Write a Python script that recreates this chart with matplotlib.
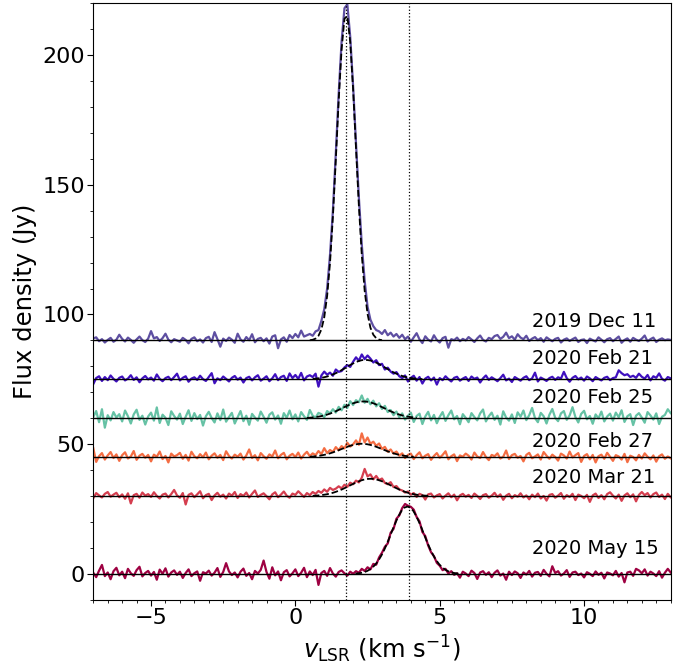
import numpy as np
import matplotlib
matplotlib.use("Agg")
import matplotlib.pyplot as plt
from matplotlib.ticker import MultipleLocator

# velocity channels (km/s)
velocity = np.round(np.linspace(-7.0, 13.0, 201), 1)

epochs = ["2019 Dec 11", "2020 Feb 21", "2020 Feb 25",
          "2020 Feb 27", "2020 Mar 21", "2020 May 15"]
offsets = [90, 75, 60, 45, 30, 0]
colors = ["#5e4fa2", "#3f10bf", "#66c2a5", "#f46d43", "#d53e4f", "#9e0142"]

# flux density (Jy) for each epoch, before offset
flux_dec11 = [
    0.8, 1.2, -0.3, 0.5, -0.8, 0.2, 1.0, -0.5, 0.3, 2.2,
    0.6, -0.4, 1.1, 0.2, -0.9, 0.4, 1.5, 0.1, -0.6, 0.7,
    3.6, 0.8, 1.3, -0.2, 0.9, 2.6, 0.3, -0.7, 0.5, 0.0,
    -0.5, 1.0, 0.2, -1.1, 0.6, 1.2, -0.3, 0.4, -0.8, 0.9,
    1.4, -0.6, 3.2, 0.5, -2.4, 0.7, -0.2, 1.1, 0.3, -0.9,
    2.6, 0.4, -0.5, 1.3, 0.1, 2.4, -0.7, 0.6, 1.0, -0.3,
    0.8, -1.2, 1.5, 2.0, -3.0, 0.4, 1.2, -0.5, 2.1, 0.9,
    2.5, 1.2, 3.8, 1.5, 2.0, 2.5, 1.8, 3.5, 4.0, 7.5,
    12, 20, 33, 50, 72, 95, 115, 128, 129.5, 117,
    98, 76, 55, 37, 23, 13, 8, 5.5, 4.0, 3.5,
    2.5, 4.0, 2.0, 3.0, 1.5, 2.5, 1.0, 2.2, 0.5, 1.5,
    -0.5, 1.2, 2.8, 0.4, -1.0, 1.6, 0.3, -0.4, 2.0, 0.2,
    -0.8, 0.9, 1.4, -2.8, 0.5, 0.1, 1.1, -0.3, 0.6, 0.0,
    1.3, 0.4, -0.6, 0.8, 1.9, 0.2, -0.4, 1.0, 0.5, 1.7,
    2.1, 0.6, 1.4, 3.0, 0.9, 1.6, 0.3, 2.4, 1.1, 0.5,
    1.8, -0.2, 0.7, 1.3, 0.1, 0.9, -0.5, 1.2, 0.4, -0.3,
    0.6, 1.0, -0.8, 0.3, 0.8, -0.2, 0.5, 1.1, -0.6, 0.2,
    0.4, -1.0, 0.7, 0.1, -0.4, 1.2, 0.3, -0.7, 0.5, 0.9,
    -0.3, 0.6, 1.5, -0.9, 0.2, 0.8, -0.5, 1.0, 0.3, -0.2,
    0.7, 1.9, -0.4, 0.5, 1.1, -0.6, 0.3, 0.8, 0.1, 0.4,
    0.2]

flux_feb21 = [
    -1.8, 0.5, 1.2, -0.6, 0.9, -0.3, 1.5, 0.2, -0.8, 0.6,
    1.1, -0.4, 0.3, 1.6, -0.2, 0.8, -1.1, 0.4, 1.3, 0.0,
    0.7, -0.5, 1.9, 0.2, -0.7, 0.5, 1.0, -0.3, 0.9, 2.2,
    -0.4, 0.6, 1.2, -0.9, 0.3, 0.8, -0.2, 1.4, 0.1, -0.6,
    0.9, 2.4, -1.5, 0.4, -0.3, 1.1, 0.2, -0.8, 0.6, 1.3,
    -0.1, 0.7, -1.2, 0.5, 1.0, -0.4, 0.8, 1.6, -0.5, 0.3,
    1.2, -0.7, 0.4, 2.0, -0.3, 0.9, 1.4, -0.6, 2.3, 0.5,
    1.7, 0.2, 2.5, -0.4, 1.1, 1.6, 0.9, 2.2, -2.8, 1.5,
    3.0, 1.8, 2.6, 1.4, 3.8, 2.9, 3.2, 4.6, 5.5, 4.8,
    6.8, 8.5, 7.2, 9.6, 7.8, 9.2, 8.0, 6.5, 7.4, 5.5,
    6.0, 3.8, 4.5, 3.0, 2.2, 2.8, 1.2, 0.5, 1.5, -0.8,
    0.6, 1.4, -0.5, 0.9, -1.6, 0.3, 1.0, -0.4, 0.7, -2.0,
    0.5, -0.3, 1.2, 0.1, -0.8, 0.6, 1.0, -0.5, 0.3, 0.9,
    -0.6, 1.1, 0.2, 0.7, -1.2, 0.4, 1.5, -0.2, 0.8, 0.1,
    -0.7, 0.5, 1.8, -0.4, 0.3, -1.0, 0.9, 0.2, -0.5, 0.6,
    1.2, -0.3, 0.4, 2.6, -0.8, 0.7, 0.1, -0.6, 0.5, 1.0,
    -0.2, 0.8, 0.3, 2.9, 0.5, -0.9, 0.6, 1.3, 0.0, 0.7,
    -0.5, 1.1, 0.4, -0.7, 0.9, 0.2, -0.4, 0.6, 1.0, -0.3,
    0.5, 0.8, 3.5, 2.4, 1.6, 2.0, 0.9, 1.4, 0.6, 2.2,
    1.0, 0.3, 1.7, -0.4, 1.2, 0.6, 2.3, 0.2, -0.5, 0.9,
    0.4]

flux_feb25 = [
    0.5, 2.8, -1.5, 3.5, -3.6, 1.2, -0.8, 2.4, 0.3, 1.6,
    -1.2, 3.0, 0.8, -2.0, 1.5, 3.3, -0.6, 1.0, -2.4, 0.7,
    2.2, -0.9, 4.2, -1.8, 1.4, 0.2, -2.6, 2.7, 0.9, -0.5,
    1.8, -2.2, 0.6, 3.1, -1.0, 2.0, -0.3, 1.3, -2.8, 0.8,
    2.5, 0.1, -1.6, 1.9, -0.7, 3.4, -1.3, 0.5, 2.1, -2.0,
    0.4, 2.8, -1.1, 1.0, -2.5, 1.7, 0.3, -0.9, 2.6, 0.6,
    -1.7, 1.4, 2.3, -0.5, 1.1, -2.1, 2.0, 0.2, 3.0, -0.4,
    1.5, -1.2, 2.4, 0.8, -0.6, 3.2, 1.0, 0.3, 2.1, 1.6,
    0.4, 2.8, 1.9, 3.5, 2.2, 4.4, 3.1, 5.2, 4.0, 6.6,
    5.1, 7.0, 6.2, 8.8, 6.0, 7.5, 5.4, 6.8, 4.6, 5.8,
    3.6, 4.8, 2.4, 3.2, 1.2, 2.6, 0.4, 1.9, -0.5, 1.0,
    2.2, -1.4, 0.9, 1.8, -2.2, 0.7, 2.5, -0.8, 1.3, -1.9,
    0.6, 2.4, -1.0, 1.2, 3.0, -0.4, 0.9, -2.3, 1.6, 0.2,
    -1.5, 2.0, 0.5, -0.8, 1.9, 3.4, -1.2, 0.8, 2.2, -0.6,
    1.0, -2.4, 2.7, 0.3, -0.9, 1.5, -1.8, 2.3, 0.6, 3.0,
    -0.7, 1.2, 4.0, 0.1, -1.5, 2.1, 0.8, -2.0, 1.4, 3.6,
    0.2, -1.1, 1.9, 2.8, -0.6, 1.1, 4.3, 0.5, -1.6, 1.7,
    2.9, -0.4, 0.9, -2.1, 1.5, 0.0, 2.6, -1.2, 0.7, 1.8,
    -0.9, 2.2, 0.4, 3.1, -1.4, 0.8, 1.6, -2.6, 1.0, 2.0,
    0.3, -1.7, 2.4, 1.1, -0.5, 1.9, -2.2, 0.6, 1.3, 3.5,
    2.0]

flux_feb27 = [
    3.5, -1.8, 0.4, 1.6, -0.9, 0.7, 2.0, -0.3, 1.1, -1.4,
    0.8, 1.9, -0.5, 0.3, 2.4, -1.0, 0.6, 1.3, -0.2, 0.9,
    -1.6, 1.0, 0.2, 2.2, -0.7, 0.5, -2.0, 1.4, 0.3, 0.8,
    1.7, -0.6, 0.9, -1.3, 2.1, 0.4, -0.4, 1.2, 0.0, 1.8,
    -0.8, 0.6, 1.5, -0.2, 0.9, -1.1, 2.3, 0.5, -0.5, 1.0,
    0.2, 1.4, -0.9, 0.7, 3.0, -0.3, 0.8, -1.2, 1.6, 0.4,
    -0.6, 1.1, 0.3, 2.6, -0.4, 0.9, 1.7, -0.8, 0.6, 1.3,
    0.1, 1.8, -0.5, 1.0, 2.1, 0.4, 1.5, 0.8, 2.4, 1.2,
    3.5, 1.6, 2.8, 2.0, 3.9, 2.7, 4.3, 3.4, 5.6, 4.1,
    5.0, 6.5, 4.8, 9.2, 5.7, 7.6, 5.2, 6.0, 4.4, 5.3,
    3.2, 4.0, 2.1, 3.0, 1.4, 2.2, 0.6, 1.5, -0.3, 0.9,
    1.4, -0.7, 0.8, 1.9, -0.4, 0.6, 1.2, -1.0, 0.5, 1.6,
    -0.2, 0.9, 2.3, -0.8, 0.4, 1.1, -1.5, 0.7, 0.2, 1.4,
    0.6, -0.9, 1.8, 0.3, -0.3, 2.0, 0.1, -1.1, 0.9, 0.4,
    1.5, -0.5, 0.2, 2.6, -0.7, 0.8, 1.3, -0.2, 0.5, -1.6,
    0.9, 1.7, -0.4, 0.3, 1.1, -0.9, 2.0, 0.6, -0.6, 1.0,
    0.1, -1.3, 1.4, 0.7, -0.5, 2.2, -0.1, 0.8, 1.6, -1.8,
    0.5, 1.2, -0.8, 0.9, -2.0, 0.4, 1.0, -0.6, 1.7, 0.2,
    -1.4, 0.8, 0.3, -0.9, 1.3, -1.9, 0.6, 0.1, -1.2, 0.9,
    -0.5, 1.5, 0.2, -0.8, 0.7, -1.7, 0.4, 1.1, -0.6, 0.3,
    -0.4]

flux_mar21 = [
    -0.8, 1.2, 0.3, -0.5, 0.9, 1.6, -0.2, 0.6, 1.3, -0.4,
    0.7, -1.0, 1.1, -2.8, 0.4, 0.9, -0.6, 1.4, 0.2, 0.8,
    -0.3, 1.5, 0.1, -0.9, 0.6, 1.0, -0.5, 0.8, 2.4, 0.3,
    -0.6, 1.2, -3.2, 0.5, 1.1, -0.4, 0.7, 1.9, -0.8, 0.4,
    0.9, -1.5, 0.3, 1.3, -0.2, 0.6, -0.9, 1.0, 0.2, 1.6,
    -0.7, 0.8, 0.1, 1.4, -0.5, 0.9, 2.2, -0.3, 0.5, 1.1,
    0.0, -1.2, 0.7, 1.5, -0.4, 0.6, 1.8, 0.2, -0.6, 1.0,
    0.5, 1.9, 0.8, -0.3, 1.2, 0.4, 1.6, 0.9, 2.0, 1.3,
    2.6, 1.7, 3.2, 2.4, 2.9, 3.8, 3.0, 4.4, 3.6, 5.2,
    4.6, 6.0, 5.3, 7.1, 10.5, 7.6, 8.4, 6.5, 7.8, 6.2,
    6.8, 5.1, 4.6, 5.4, 3.5, 3.9, 2.6, 2.2, 1.4, 1.8,
    0.6, 1.2, -0.3, 0.9, 0.4, -1.3, 0.7, 1.0, -0.5, 0.3,
    0.8, -0.9, 0.2, 1.1, -0.4, 0.6, -1.6, 0.3, 0.9, -0.2,
    0.5, -0.7, 1.0, 0.1, -1.1, 0.4, 0.8, -0.6, 0.2, 1.3,
    -0.3, 0.7, -1.4, 0.2, 0.9, -0.8, 0.4, -0.2, 1.1, -0.5,
    0.3, -1.2, 0.6, -0.4, 1.0, -0.9, 0.1, -1.7, 0.5, 0.8,
    -0.6, 0.2, 1.2, -1.0, 0.4, -0.3, 0.9, -1.5, 0.6, 0.1,
    -0.8, 0.5, -2.2, 0.3, 1.0, -0.7, 0.4, -1.2, 0.8, 1.5,
    0.2, -0.9, 0.6, -1.8, 0.3, 1.1, -0.4, 0.7, -2.0, 0.5,
    1.6, 0.4, 1.2, -0.5, 0.8, 1.4, -0.3, 0.6, -1.1, 0.9,
    -0.4]

flux_may15 = [
    0.5, -1.2, 1.3, 3.5, -0.8, 0.6, -2.0, 1.1, 2.4, -0.5,
    0.9, -1.6, 2.0, 0.3, -0.7, 1.5, 2.8, -0.9, 0.4, 1.2,
    -0.6, 0.8, -2.2, 1.7, 0.1, 2.2, -1.0, 0.6, 1.4, -0.3,
    0.9, -1.5, 0.4, 1.8, -0.8, 0.3, 1.0, -2.6, 0.7, 0.2,
    1.3, -0.6, 0.5, 2.3, -1.1, 0.8, 4.2, 1.0, -0.4, 0.6,
    -1.3, 0.9, 2.1, -0.7, 0.4, -2.0, 1.2, 0.2, 1.6, 5.2,
    0.8, -1.8, 2.6, -0.5, 1.0, -2.4, 0.7, 1.5, -0.9, 0.3,
    1.8, -0.8, 0.5, 2.4, -1.2, 1.0, -0.4, 1.6, -4.2, 0.4,
    1.2, -0.7, 2.3, 0.2, -1.0, 0.8, 1.4, 0.3, -0.6, 0.9,
    0.1, 1.1, 0.5, 2.0, 1.2, 2.6, 1.8, 3.9, 3.6, 6.4,
    8.2, 10.5, 11.8, 15.9, 17.4, 21.3, 22.6, 25.4, 27.0, 26.3,
    25.9, 24.8, 22.0, 20.3, 16.2, 14.6, 11.0, 8.4, 6.9, 4.3,
    3.2, 1.5, 2.0, 0.2, 1.1, -0.3, 0.3, -1.4, 0.9, 0.2,
    -0.8, 1.3, 0.4, -1.9, 0.6, 1.1, -0.3, 0.7, -1.2, 0.5,
    1.4, -0.6, 0.2, -2.2, 0.9, -0.4, 1.0, 0.3, -1.5, 0.6,
    -0.2, 1.2, -1.0, 0.5, 0.8, -0.7, 1.6, 0.1, -0.9, 3.0,
    0.4, 1.1, -0.6, 0.2, 1.5, -1.1, 0.6, 0.9, -0.4, 0.2,
    -1.3, 0.7, 0.1, -0.8, 1.0, -0.3, 0.5, -1.7, 0.6, 0.2,
    -0.5, 1.2, -1.0, 0.4, -3.2, 0.6, 0.9, -0.7, 2.0, 1.4,
    0.3, 1.8, -0.6, 0.9, 0.2, -0.8, 1.1, -1.4, 0.5, 2.0,
    0.6]

# Gaussian fit curves (Jy), sampled every 0.1 km/s from fit_start
fit_start = [0.5, 0.6, 0.4, 0.5, 0.6, 2.08]
fit_dec11 = [0.09, 0.26, 0.72, 1.8, 4.2, 8.9, 17.1, 29.9, 47.7, 69.5,
             92.4, 112, 124, 125, 115, 96.8, 74.1, 51.8, 33.0, 19.2,
             10.2, 4.9, 2.2, 0.87, 0.32, 0.1]
fit_feb21 = [0.2, 0.3, 0.42, 0.6, 0.82, 1.1, 1.46, 1.9, 2.38, 2.95,
             3.56, 4.2, 4.88, 5.55, 6.14, 6.7, 7.08, 7.4, 7.5, 7.45,
             7.27, 6.9, 6.47, 5.9, 5.28, 4.6, 3.95, 3.3, 2.71, 2.2,
             1.71, 1.3, 0.98, 0.73, 0.52, 0.37, 0.25, 0.17, 0.1]
fit_feb25 = [0.15, 0.23, 0.34, 0.48, 0.64, 0.86, 1.12, 1.44, 1.81, 2.24,
             2.72, 3.24, 3.78, 4.33, 4.86, 5.36, 5.78, 6.12, 6.36, 6.48,
             6.49, 6.36, 6.12, 5.78, 5.35, 4.86, 4.32, 3.78, 3.24, 2.72,
             2.25, 1.82, 1.44, 1.12, 0.86, 0.64, 0.47, 0.34, 0.24]
fit_feb27 = [0.19, 0.27, 0.38, 0.52, 0.70, 0.93, 1.20, 1.51, 1.87, 2.27,
             2.71, 3.16, 3.60, 4.04, 4.42, 4.75, 4.99, 5.14, 5.2, 5.14,
             4.99, 4.75, 4.42, 4.04, 3.60, 3.16, 2.71, 2.27, 1.87, 1.51,
             1.20, 0.93, 0.70, 0.52, 0.38, 0.27, 0.19]
fit_mar21 = [0.14, 0.21, 0.29, 0.41, 0.57, 0.76, 1.01, 1.31, 1.67, 2.09,
             2.55, 3.07, 3.61, 4.18, 4.73, 5.27, 5.74, 6.14, 6.45, 6.64,
             6.7, 6.64, 6.45, 6.14, 5.74, 5.27, 4.73, 4.18, 3.61, 3.07,
             2.55, 2.09, 1.67, 1.31, 1.01, 0.76, 0.57, 0.41, 0.29, 0.21,
             0.14]
fit_may15 = [0.15, 0.26, 0.44, 0.72, 1.14, 1.76, 2.62, 3.78, 5.28, 7.15,
             9.37, 11.9, 14.6, 17.5, 20.1, 22.5, 24.4, 25.6, 26.0, 25.6,
             24.4, 22.5, 20.1, 17.5, 14.6, 11.9, 9.37, 7.15, 5.28, 3.78,
             2.62, 1.76, 1.14, 0.72, 0.44, 0.26, 0.15]

# velocities of the two features marked with dotted lines
marker_v = [1.76, 3.93]

fluxes = [flux_dec11, flux_feb21, flux_feb25, flux_feb27, flux_mar21, flux_may15]
fits = [fit_dec11, fit_feb21, fit_feb25, fit_feb27, fit_mar21, fit_may15]
label_y = [95.3, 80.8, 65.8, 49.1, 34.9, 7.6]

fig = plt.figure(figsize=(6.89, 6.64), dpi=100)
ax = fig.add_axes([0.1354, 0.0964, 0.838, 0.899])

for flux, fit, v0, off, col, name, ly in zip(fluxes, fits, fit_start, offsets,
                                            colors, epochs, label_y):
    ax.plot(velocity, np.array(flux) + off, color=col, lw=1.6)
    ax.axhline(off, color='k', lw=1.0)
    fv = v0 + 0.1 * np.arange(len(fit))
    ax.plot(fv, np.array(fit) + off, 'k--', lw=1.3)
    ax.text(8.2, ly, name, fontsize=14, va='baseline', ha='left')

for mv in marker_v:
    ax.axvline(mv, color='k', ls=':', lw=0.9)

ax.set_xlim(-7, 13)
ax.set_ylim(-10, 220)
ax.xaxis.set_major_locator(MultipleLocator(5))
ax.xaxis.set_minor_locator(MultipleLocator(0.5))
ax.yaxis.set_major_locator(MultipleLocator(50))
ax.yaxis.set_minor_locator(MultipleLocator(10))
ax.tick_params(axis='both', which='major', labelsize=16, length=4.3, pad=1.8)
ax.tick_params(axis='both', which='minor', length=2.4)
ax.set_xlabel(r'$v_{\rm LSR}$ (km s$^{-1}$)', fontsize=17.5)
ax.set_ylabel('Flux density (Jy)', fontsize=17.5)

fig.savefig("out.png", dpi=100)
